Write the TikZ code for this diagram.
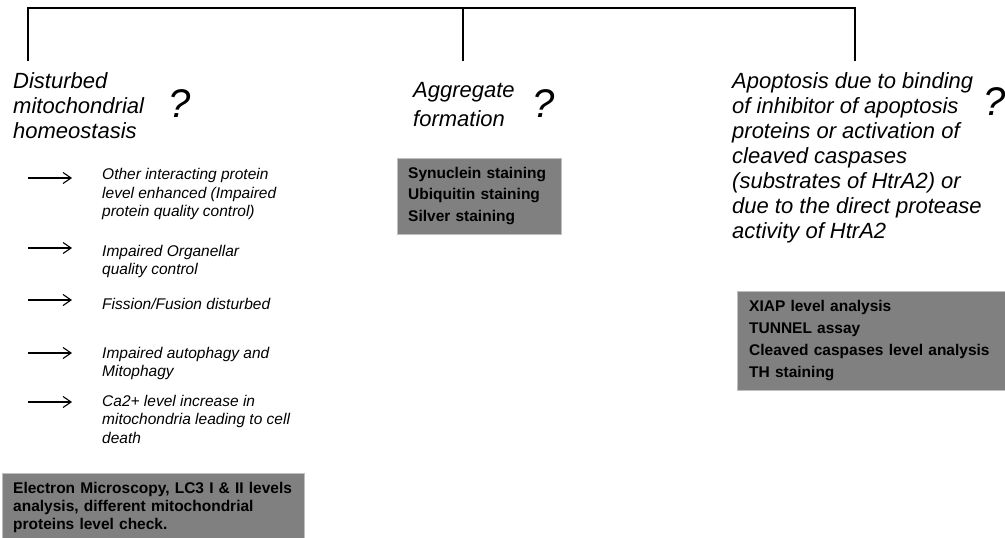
\documentclass[tikz,border=0pt]{standalone}
\usepackage{fontspec}
\setmainfont{Liberation Sans}
\usetikzlibrary{arrows.meta}

\begin{document}
\begin{tikzpicture}[x=1pt,y=-1pt,
		tree/.style={line width=1.6pt},
		title/.style={anchor=base west,inner sep=0,align=left,font=\fontsize{22}{25}\selectfont\itshape},
		qmark/.style={anchor=base west,inner sep=0,font=\fontsize{40}{40}\selectfont\itshape},
		item/.style={anchor=base west,inner sep=0,align=left,font=\fontsize{15.5}{18.5}\selectfont\itshape},
		testbox/.style={anchor=north west,fill=black!50,draw=black!25,inner xsep=11pt,inner ysep=9pt,align=left},
		flow/.style={line width=1.1pt,-{Straight Barb[length=8pt,width=11pt]},shorten >=30pt}]
		\useasboundingbox (0,0) rectangle (1005,538);
		% tree on top
		\coordinate (ltop) at (28,8);
		\coordinate (mtop) at (463,8);
		\coordinate (rtop) at (855,8);
		\coordinate (lleg) at (28,61);
		\coordinate (mleg) at (463,61);
		\coordinate (rleg) at (855,61);
		\draw[tree] (lleg) -- (ltop) -- (rtop) -- (rleg);
		\draw[tree] (mtop) -- (mleg);
		% three possible causes (base = last line)
		\node[title] (mito) at (13,138) {Disturbed\\mitochondrial\\homeostasis};
		\node[qmark] (q1) at (168,117) {?};
		\node[title,font=\fontsize{22}{29}\selectfont\itshape] (aggr) at (413,126) {Aggregate\\formation};
		\node[qmark] (q2) at (532,117) {?};
		\node[title] (apop) at (732,238) {Apoptosis due to binding\\of inhibitor of apoptosis\\proteins or activation of\\cleaved caspases\\(substrates of HtrA2) or\\due to the direct protease\\activity of HtrA2};
		\node[qmark] (q3) at (983,115) {?};
		% consequences
		\node[item] (i1) at (102,216.5) {Other interacting protein\\level enhanced (Impaired\\protein quality control)};
		\node[item] (i2) at (102,274.5) {Impaired Organellar\\quality control};
		\node[item] (i3) at (102,309) {Fission/Fusion disturbed};
		\node[item] (i4) at (102,376.5) {Impaired autophagy and\\Mitophagy};
		\node[item] (i5) at (102,443) {Ca2+ level increase in\\mitochondria leading to cell\\death};
		\foreach \n/\y in {1/178,2/248,3/300,4/353,5/402} {
			\coordinate (a\n) at (28,\y);
			\draw[flow] (a\n) -- (a\n -| i\n.west);
		}
		% tests
		\node[testbox,text width=280pt,font=\fontsize{15.5}{18}\selectfont\bfseries] (emtest) at (2,473) {Electron Microscopy, LC3 I \& II levels\\analysis, different mitochondrial\\proteins level check.};
		\node[testbox,text width=142pt,font=\fontsize{15.5}{21.5}\selectfont\bfseries] (aggtest) at (397,158) {Synuclein staining\\Ubiquitin staining\\Silver staining};
		\node[testbox,text width=262pt,inner xsep=12pt,font=\fontsize{15.5}{22}\selectfont\bfseries] (apotest) at (737,291) {XIAP level analysis\\TUNNEL assay\\Cleaved caspases level analysis\\TH staining};
	\end{tikzpicture}
\end{document}
